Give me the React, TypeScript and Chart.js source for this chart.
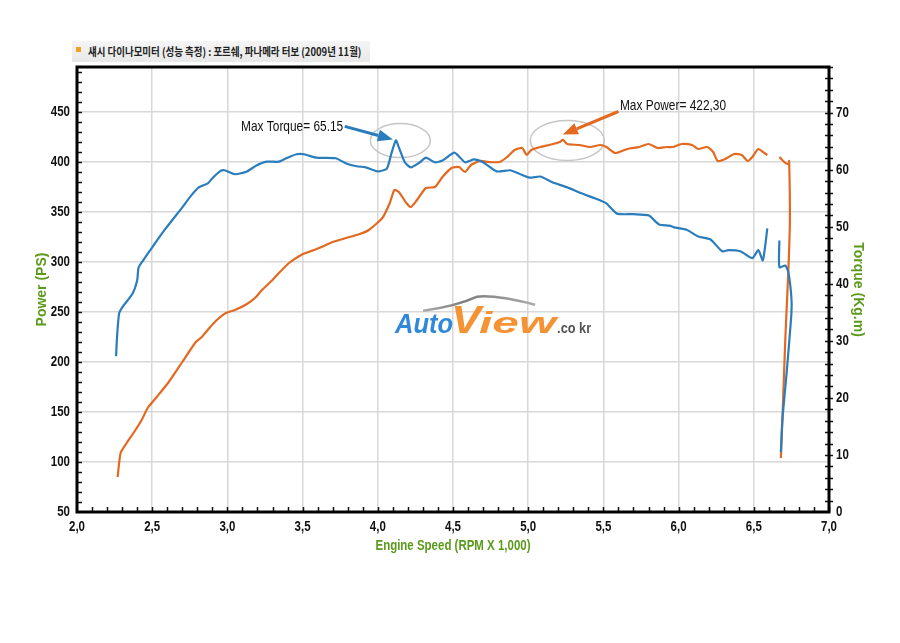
import { useEffect, useRef } from 'react';
import { Chart, registerables } from 'chart.js';

Chart.register(...registerables);

// torque curve (blue, right axis, kg.m); null = gap in the trace
const torqueRpm = [
  2.26, 2.265, 2.28, 2.31, 2.37, 2.4, 2.41, 2.45, 2.5, 2.59, 2.7, 2.76, 2.81, 2.87, 2.9, 2.95, 2.98,
  3.05, 3.13, 3.19, 3.26, 3.34, 3.39, 3.46, 3.51, 3.59, 3.72, 3.79, 3.86, 3.92, 4.0, 4.06, 4.09,
  4.12, 4.14, 4.18, 4.22, 4.28, 4.32, 4.38, 4.43, 4.51, 4.58, 4.64, 4.7, 4.79, 4.88, 4.94, 5.01,
  5.08, 5.16, 5.26, 5.34, 5.43, 5.48, 5.52, 5.59, 5.7, 5.8, 5.87, 5.94, 5.97, 6.05, 6.13, 6.21,
  6.29, 6.33, 6.41, 6.49, 6.53, 6.56, 6.59, 6.63, 6.67, 6.67, 6.71, 6.73, 6.75, 6.75, 6.72, 6.69,
  6.68,
];
const torqueKgm = [
  27.3, 30.1, 34.8, 36.2, 38.3, 40.6, 42.9, 44.5, 46.4, 49.7, 53.4, 55.5, 56.9, 57.6, 58.5, 59.7, 59.9,
  59.2, 59.7, 60.7, 61.4, 61.4, 62.0, 62.7, 62.7, 62.1, 62.0, 61.1, 60.6, 60.4, 59.7, 60.2, 62.8,
  65.15, 63.9, 61.3, 60.4, 61.3, 62.1, 61.3, 61.6, 63.0, 61.3, 61.8, 61.3, 59.7, 59.9, 59.3, 58.6,
  58.8, 57.8, 56.9, 56.0, 55.1, 54.6, 54.1, 52.3, 52.2, 52.0, 50.4, 50.2, 49.9, 49.5, 48.3, 47.8,
  45.7, 45.9, 45.7, 44.5, 45.9, 44.1, 49.7, null, 47.6, 42.9, 43.2, 42.0, 37.6, 34.8, 24.9, 16.1,
  10.5,
];

// power curve (orange, left axis, PS)
const powerRpm = [
  2.27, 2.29, 2.33, 2.38, 2.43, 2.47, 2.53, 2.61, 2.7, 2.79, 2.83, 2.88, 2.93, 2.99, 3.05, 3.13,
  3.19, 3.23, 3.3, 3.33, 3.41, 3.49, 3.54, 3.61, 3.7, 3.79, 3.88, 3.94, 4.03, 4.08, 4.11, 4.14,
  4.19, 4.22, 4.26, 4.32, 4.38, 4.43, 4.49, 4.54, 4.58, 4.62, 4.68, 4.74, 4.81, 4.86, 4.91, 4.96,
  4.99, 5.02, 5.08, 5.14, 5.21, 5.23, 5.26, 5.34, 5.41, 5.48, 5.52, 5.58, 5.66, 5.74, 5.8, 5.86,
  5.92, 5.96, 6.02, 6.09, 6.13, 6.19, 6.23, 6.26, 6.31, 6.37, 6.42, 6.46, 6.49, 6.53, 6.57, 6.59,
  6.63, 6.67, 6.71, 6.73, 6.735, 6.74, 6.73, 6.71, 6.69, 6.68,
];
const powerPs = [
  85, 109, 119, 130, 142, 154, 165, 180, 200, 220, 225, 234, 242, 249, 252, 258,
  265, 272, 282, 287, 299, 307, 310, 314, 320, 324, 328, 332, 344, 359, 372, 370,
  359, 355, 362, 374, 375, 385, 394, 395, 390, 397, 401, 400, 400, 405, 412, 414,
  407, 412, 415, 417, 420, 422.3, 418, 417, 415, 417, 415, 409, 413, 415, 418, 414,
  415, 415, 418, 417, 413, 415, 410, 401, 403, 408, 407, 401, 405, 413, 409, 407,
  null, 405, 399, 398, 401, 342, 292, 225, 142, 104,
];

const xTickLabels = ['2,0', '2,5', '3,0', '3,5', '4,0', '4,5', '5,0', '5,5', '6,0', '6,5', '7,0'];

const BLUE = '#2a7dbd';
const ORANGE = '#e2691f';
const GREEN = '#5c9a1c';
const SANS = "'Liberation Sans', Arial, sans-serif";
const SQUEEZE = 0.82; // the original picture is horizontally compressed

const annotations = [
  {
    axis: 'yTorque', label: 'Max Torque= 65.15', color: BLUE, align: 'right',
    ellipse: [4.15, 65.1, 30, 17], tail: [3.78, 67.6], tip: [4.1, 65.3], text: [3.77, 67.5],
  },
  {
    axis: 'yPower', label: 'Max Power= 422,30', color: ORANGE, align: 'left',
    ellipse: [5.26, 421.5, 37, 20], tail: [5.6, 450.5], tip: [5.23, 427.5], text: [5.61, 456.5],
  },
];

function drawArrow(ctx, x1, y1, x2, y2, color) {
  const ang = Math.atan2(y2 - y1, x2 - x1);
  const head = 15;
  const hw = 6;
  const bx = x2 - head * Math.cos(ang);
  const by = y2 - head * Math.sin(ang);
  ctx.strokeStyle = color;
  ctx.fillStyle = color;
  ctx.lineWidth = 3;
  ctx.beginPath();
  ctx.moveTo(x1, y1);
  ctx.lineTo(bx, by);
  ctx.stroke();
  ctx.beginPath();
  ctx.moveTo(x2, y2);
  ctx.lineTo(bx + hw * Math.sin(ang), by - hw * Math.cos(ang));
  ctx.lineTo(bx - hw * Math.sin(ang), by + hw * Math.cos(ang));
  ctx.closePath();
  ctx.fill();
}

// text squeezed horizontally like the source image
function drawText(ctx, text, x, y, font, align, color) {
  ctx.save();
  ctx.translate(x, y);
  ctx.scale(SQUEEZE, 1);
  ctx.font = font;
  ctx.textAlign = align;
  ctx.textBaseline = 'middle';
  ctx.fillStyle = color;
  ctx.fillText(text, 0, 0);
  ctx.restore();
}

function drawWord(ctx, text, x, y, font, width, fill) {
  ctx.save();
  ctx.font = font;
  const w = ctx.measureText(text).width;
  ctx.translate(x, y);
  ctx.scale(width / w, 1);
  ctx.fillStyle = fill;
  ctx.fillText(text, 0, 0);
  ctx.restore();
}

const overlayPlugin = {
  id: 'overlay',
  beforeDatasetsDraw(chart) {
    const { ctx, chartArea: a } = chart;
    ctx.save();
    // AutoView logo
    const lx = a.left + (a.right - a.left) * 0.423;
    const ly = a.top + (a.bottom - a.top) * 0.597;
    const sw = ctx.createLinearGradient(lx, 0, lx + 140, 0);
    sw.addColorStop(0, '#c8c8c8');
    sw.addColorStop(0.5, '#7d7d7d');
    sw.addColorStop(1, '#aaaaaa');
    ctx.strokeStyle = sw;
    ctx.lineWidth = 2.5;
    ctx.beginPath();
    ctx.moveTo(lx + 28, ly - 22);
    ctx.quadraticCurveTo(lx + 60, ly - 26, lx + 82, ly - 36);
    ctx.quadraticCurveTo(lx + 100, ly - 38, lx + 140, ly - 28);
    ctx.stroke();
    ctx.textBaseline = 'alphabetic';
    const gb = ctx.createLinearGradient(0, ly - 22, 0, ly);
    gb.addColorStop(0, '#2f88d8');
    gb.addColorStop(1, '#15508f');
    const go = ctx.createLinearGradient(0, ly - 28, 0, ly);
    go.addColorStop(0, '#f49234');
    go.addColorStop(1, '#d34d16');
    drawWord(ctx, 'Auto', lx, ly, `italic 900 28px ${SANS}`, 58, gb);
    drawWord(ctx, 'V', lx + 56, ly, `italic 900 38px ${SANS}`, 30, go);
    drawWord(ctx, 'iew', lx + 84, ly, `italic 900 30px ${SANS}`, 77, go);
    drawWord(ctx, '.co kr', lx + 162, ly, `bold 15px ${SANS}`, 34, '#555');
    // ellipses around the maxima
    ctx.strokeStyle = '#c6c6c6';
    ctx.lineWidth = 1.5;
    for (const an of annotations) {
      const [ex, ey, rx, ry] = an.ellipse;
      const cx = chart.scales.x.getPixelForValue(ex);
      const cy = chart.scales[an.axis].getPixelForValue(ey);
      ctx.beginPath();
      ctx.ellipse(cx, cy, rx, ry, 0, 0, Math.PI * 2);
      ctx.stroke();
    }
    ctx.restore();
  },
  afterDatasetsDraw(chart) {
    const { ctx, chartArea: a, scales } = chart;
    ctx.save();
    ctx.strokeStyle = '#111';
    ctx.lineWidth = 1.5;
    ctx.beginPath();
    for (let v = 2.1; v < 7; v += 0.1) {
      const px = Math.round(scales.x.getPixelForValue(v)) + 0.5;
      ctx.moveTo(px, a.bottom);
      ctx.lineTo(px, a.bottom - 5);
    }
    for (let v = 60; v < 495; v += 10) {
      const py = Math.round(scales.yPower.getPixelForValue(v)) + 0.5;
      ctx.moveTo(a.left, py);
      ctx.lineTo(a.left + 5, py);
    }
    for (let v = 2; v <= 78; v += 2) {
      const py = Math.round(scales.yTorque.getPixelForValue(v)) + 0.5;
      ctx.moveTo(a.right - 4, py);
      ctx.lineTo(a.right + 4, py);
    }
    ctx.stroke();
    // plot frame
    ctx.lineWidth = 3;
    ctx.strokeStyle = '#000';
    ctx.strokeRect(a.left, a.top, a.right - a.left, a.bottom - a.top);

    // tick labels and x title
    const tickFont = `bold 14px ${SANS}`;
    scales.x.ticks.forEach((t, i) => {
      drawText(ctx, xTickLabels[i], scales.x.getPixelForValue(t.value), a.bottom + 15, tickFont, 'center', '#111');
    });
    scales.yPower.ticks.forEach((t) => {
      drawText(ctx, String(t.value), a.left - 7, scales.yPower.getPixelForValue(t.value), tickFont, 'right', '#111');
    });
    scales.yTorque.ticks.forEach((t) => {
      drawText(ctx, String(t.value), a.right + 7, scales.yTorque.getPixelForValue(t.value), tickFont, 'left', '#111');
    });
    drawText(ctx, 'Engine Speed (RPM X 1,000)', (a.left + a.right) / 2, a.bottom + 34, `bold 14px ${SANS}`, 'center', GREEN);

    // annotations
    for (const an of annotations) {
      const ys = scales[an.axis];
      drawArrow(
        ctx,
        scales.x.getPixelForValue(an.tail[0]), ys.getPixelForValue(an.tail[1]),
        scales.x.getPixelForValue(an.tip[0]), ys.getPixelForValue(an.tip[1]),
        an.color,
      );
      drawText(ctx, an.label, scales.x.getPixelForValue(an.text[0]), ys.getPixelForValue(an.text[1]), `14.5px ${SANS}`, an.align, '#111');
    }
    ctx.restore();
  },
};

const App = () => {
  const canvasRef = useRef<HTMLCanvasElement | null>(null);

  useEffect(() => {
    document.body.style.margin = '0';
    const canvas = canvasRef.current;
    if (!canvas) {
      return;
    }

    const chart = new Chart(canvas, {
      type: 'line',
      data: {
        datasets: [
          {
            label: 'Torque',
            data: torqueRpm.map((x, i) => ({ x, y: torqueKgm[i] })),
            borderColor: BLUE,
            yAxisID: 'yTorque',
          },
          {
            label: 'Power',
            data: powerRpm.map((x, i) => ({ x, y: powerPs[i] })),
            borderColor: ORANGE,
            yAxisID: 'yPower',
          },
        ],
      },
      options: {
        animation: false,
        responsive: false,
        spanGaps: false,
        layout: { padding: { top: 67, left: 0, right: 0, bottom: 0 } },
        plugins: {
          legend: { display: false },
          tooltip: { enabled: false },
        },
        elements: {
          point: { radius: 0 },
          line: { borderWidth: 2.2, tension: 0.2, fill: false },
        },
        scales: {
          x: {
            type: 'linear',
            position: 'bottom',
            min: 2,
            max: 7,
            afterFit: (s) => {
              s.height = 131;
            },
            ticks: { display: false, stepSize: 0.5, includeBounds: false, autoSkip: false },
            grid: { color: '#d8d8d8', lineWidth: 1.5, drawTicks: false },
            border: { display: false },
          },
          yPower: {
            type: 'linear',
            position: 'left',
            min: 50,
            max: 495,
            afterFit: (s) => {
              s.width = 77;
            },
            ticks: { display: false, stepSize: 50, includeBounds: false },
            grid: { color: '#d8d8d8', lineWidth: 1.5, drawTicks: false },
            border: { display: false },
            title: {
              display: true,
              text: 'Power (PS)',
              color: GREEN,
              font: { family: SANS, size: 14, weight: 'bold' },
              padding: { top: 34, bottom: 0 },
            },
          },
          yTorque: {
            type: 'linear',
            position: 'right',
            min: 0,
            max: 78,
            afterFit: (s) => {
              s.width = 71;
            },
            ticks: { display: false, stepSize: 10, includeBounds: false },
            grid: { display: false, drawTicks: false },
            border: { display: false },
            title: {
              display: true,
              text: 'Torque (Kg.m)',
              color: GREEN,
              font: { family: SANS, size: 14, weight: 'bold' },
              padding: { top: 34, bottom: 0 },
            },
          },
        },
      },
      plugins: [overlayPlugin],
    });

    return () => {
      chart.destroy();
    };
  }, []);

  return (
    <div style={{ position: 'relative', width: 900, height: 643, background: '#fff' }}>
      <canvas ref={canvasRef} width={900} height={643} style={{ position: 'absolute', left: 0, top: 0 }} />
      <div
        style={{
          position: 'absolute',
          left: 72,
          top: 41,
          width: 298,
          height: 21,
          background: 'linear-gradient(#f5f5f5, #e8e8e8)',
        }}
      >
        <div style={{ position: 'absolute', left: 4, top: 6, width: 5, height: 5, background: '#f2a024' }} />
        <span
          style={{
            position: 'absolute',
            left: 16,
            top: 2,
            fontFamily: "'Noto Sans CJK KR', sans-serif",
            fontWeight: 'bold',
            fontSize: 11,
            color: '#222',
            whiteSpace: 'nowrap',
            transform: 'scaleX(0.86)',
            transformOrigin: 'left center',
          }}
        >
          섀시 다이나모미터 (성능 측정) : 포르쉐, 파나메라 터보 (2009년 11월)
        </span>
      </div>
    </div>
  );
};

export default App;
